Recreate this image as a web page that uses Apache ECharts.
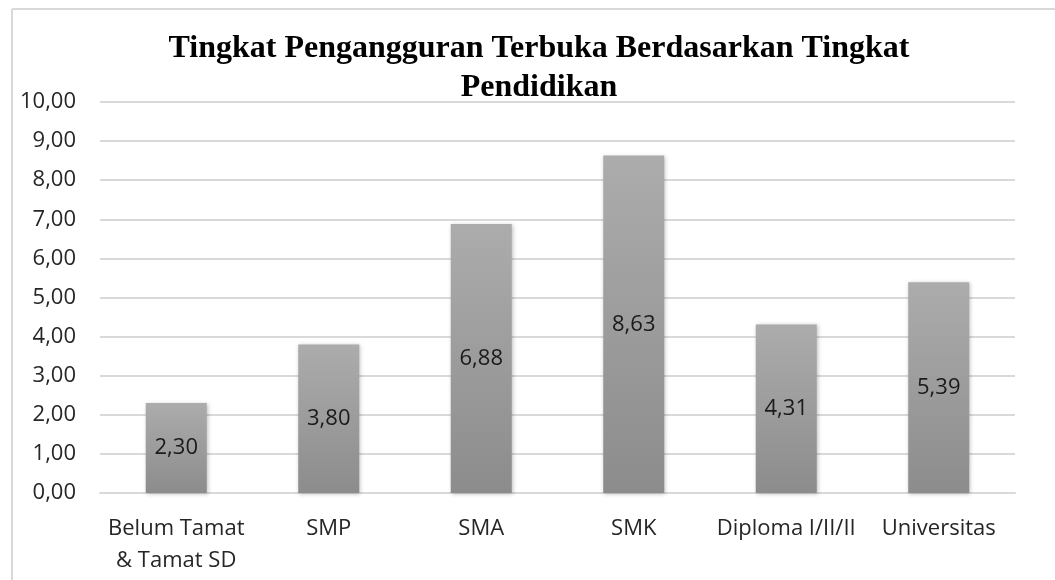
<!DOCTYPE html>
<html><head><meta charset="utf-8">
<script src="https://cdn.jsdelivr.net/npm/echarts@6/dist/echarts.min.js"></script>
<style>html,body{margin:0;padding:0;background:#fff}#c{width:1055px;height:580px}</style>
</head><body><div id="c"></div>
<script>
const titleText = 'Tingkat Pengangguran Terbuka Berdasarkan Tingkat\nPendidikan';
const categories = ['Belum Tamat\n& Tamat SD', 'SMP', 'SMA', 'SMK', 'Diploma I/II/II', 'Universitas'];
const values = [2.30, 3.80, 6.88, 8.63, 4.31, 5.39];
const fmt = v => Number(v).toFixed(2).replace('.', ',');
const chart = echarts.init(document.getElementById('c'));
chart.setOption({
  animation: false,
  title: {
    text: titleText, left: 534, textAlign: 'center', top: 24,
    textStyle: {fontFamily: 'Liberation Serif', fontWeight: 'bold', fontSize: 32, color: '#000', lineHeight: 39}
  },
  graphic: [
    {type: 'line', shape: {x1: 12, y1: 9, x2: 1055, y2: 9}, style: {stroke: '#d9d9d9', lineWidth: 2}},
    {type: 'line', shape: {x1: 12, y1: 9, x2: 12, y2: 580}, style: {stroke: '#d9d9d9', lineWidth: 2}}
  ],
  grid: {left: 100, right: 40, top: 102, bottom: 87},
  xAxis: {
    type: 'category', data: categories,
    axisLine: {lineStyle: {color: '#d9d9d9', width: 2}},
    axisTick: {show: false},
    axisLabel: {fontFamily: 'Open Sans', fontSize: 22, color: '#262626', margin: 20, lineHeight: 32, interval: 0}
  },
  yAxis: {
    type: 'value', min: 0, max: 10, interval: 1,
    axisLine: {show: false}, axisTick: {show: false},
    splitLine: {lineStyle: {color: '#d9d9d9', width: 2}},
    axisLabel: {fontFamily: 'Open Sans', fontSize: 22, color: '#262626', margin: 24, formatter: fmt}
  },
  series: [{
    type: 'bar', data: values, barWidth: 61,
    itemStyle: {
      color: new echarts.graphic.LinearGradient(0, 0, 0, 1, [
        {offset: 0, color: '#acacac'}, {offset: 1, color: '#8c8c8c'}
      ]),
      shadowColor: 'rgba(0,0,0,0.25)', shadowBlur: 4, shadowOffsetX: 1, shadowOffsetY: 1
    },
    label: {show: true, position: 'inside', formatter: p => fmt(p.value),
      fontFamily: 'Open Sans', fontSize: 22, color: '#1a1a1a'}
  }]
});
</script></body></html>
